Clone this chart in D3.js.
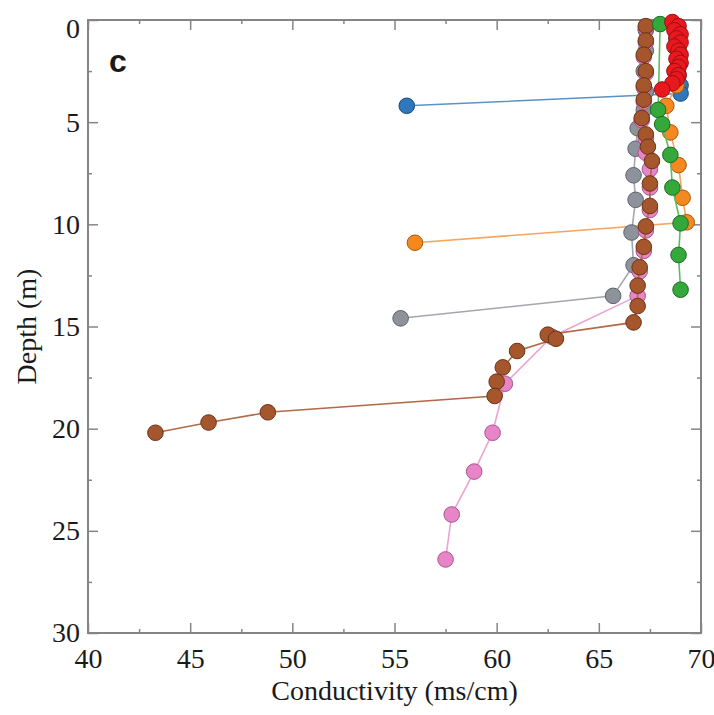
<!DOCTYPE html>
<html>
<head>
<meta charset="utf-8">
<script src="https://cdn.jsdelivr.net/npm/d3@7"></script>
<style>
  html, body { margin: 0; padding: 0; background: #fff; }
  svg { display: block; }
</style>
</head>
<body>
<svg id="chart" width="714" height="715"></svg>
<script>
// Conductivity profiles (ms/cm) against depth (m), one pair of arrays per profile.
const blueDepth   = [0.3, 0.9, 1.5, 2.1, 2.7, 3.2, 3.6, 4.2];
const blueCond    = [68.8, 68.8, 68.9, 68.9, 68.9, 69.0, 69.0, 55.6];

const orangeDepth = [0.4, 1.4, 2.4, 3.2, 4.2, 5.5, 7.1, 8.7, 9.9, 10.9];
const orangeCond  = [68.8, 68.8, 68.8, 68.8, 68.3, 68.5, 68.9, 69.1, 69.3, 56.0];

const grayDepth   = [0.5, 1.5, 2.5, 3.5, 4.4, 5.3, 6.3, 7.6, 8.8, 10.4, 12.0, 13.5, 14.6];
const grayCond    = [67.3, 67.3, 67.2, 67.3, 67.2, 66.9, 66.8, 66.7, 66.8, 66.6, 66.7, 65.7, 55.3];

const pinkDepth   = [0.4, 1.1, 1.8, 2.6, 3.3, 4.0, 4.9, 5.8, 6.5, 7.3, 8.2, 9.3, 10.3, 11.3, 12.3, 13.5, 15.5, 17.8, 20.2, 22.1, 24.2, 26.4];
const pinkCond    = [67.3, 67.3, 67.2, 67.3, 67.2, 67.2, 67.1, 67.3, 67.3, 67.5, 67.5, 67.5, 67.3, 67.2, 67.0, 66.9, 62.7, 60.4, 59.8, 58.9, 57.8, 57.5];

const brownDepth  = [0.3, 1.0, 1.7, 2.5, 3.2, 3.9, 4.8, 5.6, 6.2, 6.9, 8.0, 9.1, 10.1, 11.1, 12.1, 13.0, 14.0, 14.8,
                     15.4, 15.6, 16.2, 17.0, 17.7, 18.4, 19.2, 19.7, 20.2];
const brownCond   = [67.3, 67.3, 67.2, 67.3, 67.2, 67.2, 67.1, 67.3, 67.4, 67.6, 67.5, 67.5, 67.3, 67.2, 67.0, 66.9, 66.9, 66.7,
                     62.5, 62.9, 61.0, 60.3, 60.0, 59.9, 48.8, 45.9, 43.3];

const greenDepth  = [0.2, 4.4, 5.1, 6.6, 8.2, 9.95, 11.5, 13.2];
const greenCond   = [68.0, 67.9, 68.1, 68.5, 68.6, 69.0, 68.9, 69.0];

const redDepth    = [0.1, 0.3, 0.5, 0.7, 0.9, 1.1, 1.3, 1.5, 1.7, 1.9, 2.1, 2.3, 2.5, 2.7, 2.9, 3.1, 3.4];
const redCond     = [68.6, 68.9, 68.7, 69.0, 68.8, 69.0, 68.7, 68.9, 69.0, 68.8, 69.0, 68.9, 68.7, 68.9, 68.8, 68.6, 68.1];

const xTicks = [40, 45, 50, 55, 60, 65, 70];
const yTicks = [0, 5, 10, 15, 20, 25, 30];
const xMinor = [42.5, 47.5, 52.5, 57.5, 62.5, 67.5];
const yMinor = [2.5, 7.5, 12.5, 17.5, 22.5, 27.5];

// drawing order: later profiles sit on top
const profiles = [
  { depth: blueDepth,   cond: blueCond,   fill: "#2f78bd", stroke: "#1b4a78", line: "#5b93c9" },
  { depth: orangeDepth, cond: orangeCond, fill: "#f5891f", stroke: "#a8570d", line: "#f3a660" },
  { depth: grayDepth,   cond: grayCond,   fill: "#8e929b", stroke: "#5c6068", line: "#a3a6ad" },
  { depth: pinkDepth,   cond: pinkCond,   fill: "#e884c8", stroke: "#a4568a", line: "#eba3d3" },
  { depth: brownDepth,  cond: brownCond,  fill: "#a5562c", stroke: "#6a3418", line: "#b06b48" },
  { depth: greenDepth,  cond: greenCond,  fill: "#34a83a", stroke: "#1e6b22", line: "#5cbc61" },
  { depth: redDepth,    cond: redCond,    fill: "#e8191e", stroke: "#9c0e12", line: "#ee4a4e" }
];

const svg = d3.select("#chart");
const mLeft = 88, mRight = 701, mTop = 20, mBottom = 633;

const x = d3.scaleLinear().domain([40, 70]).range([mLeft, mRight]);
const y = d3.scaleLinear().domain([0, 30]).range([mTop, mBottom]);

const axisColor = "#858585";
const serif = "'Liberation Serif', 'Times New Roman', serif";

// plot frame
svg.append("rect")
  .attr("x", mLeft).attr("y", mTop)
  .attr("width", mRight - mLeft).attr("height", mBottom - mTop)
  .attr("fill", "none").attr("stroke", axisColor).attr("stroke-width", 2);

function styleAxis(g) {
  g.select(".domain").remove();
  g.selectAll(".tick line").attr("stroke", axisColor).attr("stroke-width", 1.5);
  g.selectAll(".tick text").attr("fill", "#1a1a1a")
    .style("font-family", serif).style("font-size", "28px");
}

// bottom axis with labels, inward ticks
svg.append("g").attr("transform", `translate(0,${mBottom})`)
  .call(d3.axisBottom(x).tickValues(xTicks).tickSize(-10).tickPadding(15).tickFormat(d3.format("d")))
  .call(styleAxis);
svg.append("g").attr("transform", `translate(0,${mBottom})`)
  .call(d3.axisBottom(x).tickValues(xMinor).tickSize(-4).tickFormat(""))
  .call(styleAxis);
// top mirror ticks
svg.append("g").attr("transform", `translate(0,${mTop})`)
  .call(d3.axisTop(x).tickValues(xTicks).tickSize(-10).tickFormat(""))
  .call(styleAxis);
svg.append("g").attr("transform", `translate(0,${mTop})`)
  .call(d3.axisTop(x).tickValues(xMinor).tickSize(-4).tickFormat(""))
  .call(styleAxis);

// left axis with labels
const yAxisG = svg.append("g").attr("transform", `translate(${mLeft},0)`)
  .call(d3.axisLeft(y).tickValues(yTicks).tickSize(-10).tickPadding(8).tickFormat(d3.format("d")))
  .call(styleAxis);
// keep the top label clear of the figure edge
yAxisG.selectAll(".tick text").filter(d => d === 0).attr("dy", "0.62em");
svg.append("g").attr("transform", `translate(${mLeft},0)`)
  .call(d3.axisLeft(y).tickValues(yMinor).tickSize(-4).tickFormat(""))
  .call(styleAxis);
// right mirror ticks
svg.append("g").attr("transform", `translate(${mRight},0)`)
  .call(d3.axisRight(y).tickValues(yTicks).tickSize(-10).tickFormat(""))
  .call(styleAxis);
svg.append("g").attr("transform", `translate(${mRight},0)`)
  .call(d3.axisRight(y).tickValues(yMinor).tickSize(-4).tickFormat(""))
  .call(styleAxis);

// axis titles
svg.append("text")
  .attr("x", (mLeft + mRight) / 2).attr("y", 700)
  .attr("text-anchor", "middle")
  .style("font-family", serif).style("font-size", "28px").attr("fill", "#1a1a1a")
  .text("Conductivity (ms/cm)");
svg.append("text")
  .attr("transform", `translate(36,${(mTop + mBottom) / 2}) rotate(-90)`)
  .attr("text-anchor", "middle")
  .style("font-family", serif).style("font-size", "28px").attr("fill", "#1a1a1a")
  .text("Depth (m)");

// panel letter
svg.append("text")
  .attr("x", 109).attr("y", 72)
  .style("font-family", "'Liberation Sans', Arial, sans-serif")
  .style("font-size", "32px").style("font-weight", "bold").attr("fill", "#1a1a1a")
  .text("c");

// profiles: connecting line then markers
const line = d3.line().x(d => x(d.c)).y(d => y(d.d));
const plot = svg.append("g");
profiles.forEach(p => {
  const pts = p.depth.map((d, i) => ({ d, c: p.cond[i] }));
  const g = plot.append("g");
  g.append("path").datum(pts)
    .attr("d", line)
    .attr("fill", "none").attr("stroke", p.line).attr("stroke-width", 1.6);
  g.selectAll("circle").data(pts).join("circle")
    .attr("cx", d => x(d.c)).attr("cy", d => y(d.d)).attr("r", 7.8)
    .attr("fill", p.fill).attr("stroke", p.stroke).attr("stroke-width", 1);
});
</script>
</body>
</html>
